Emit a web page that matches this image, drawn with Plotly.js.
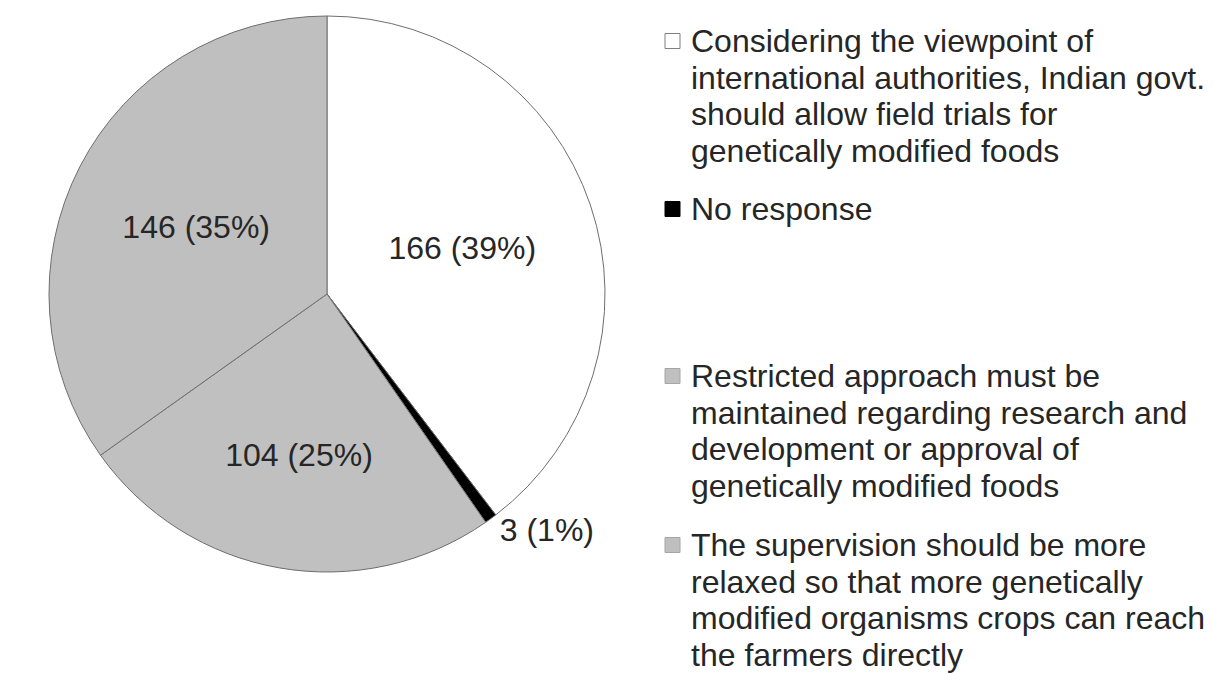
<!DOCTYPE html>
<html>
<head>
<meta charset="utf-8">
<script src="https://cdn.plot.ly/plotly-3.0.1.min.js"></script>
<style>
  html, body { margin: 0; padding: 0; background: #ffffff; }
  #chart { width: 1213px; height: 673px; }
</style>
</head>
<body>
<div id="chart"></div>
<script>
// ---- Data ----
const categories = [
  "Considering the viewpoint of<br>international authorities, Indian govt.<br>should allow field trials for<br>genetically modified foods",
  "No response",
  "Restricted approach must be<br>maintained regarding research and<br>development or approval of<br>genetically modified foods",
  "The supervision should be more<br>relaxed so that more genetically<br>modified organisms crops can reach<br>the farmers directly"
];
const values = [166, 3, 104, 146];
const percentLabels = ["39%", "1%", "25%", "35%"];
const sliceColors = ["#ffffff", "#000000", "#c0c0c0", "#bfbfbf"];
const legendBorderColors = ["#7f7f7f", "#000000", "#a6a6a6", "#a6a6a6"];

// ---- Layout / style ----
const W = 1213, H = 673;
const FONT = "Liberation Sans, Arial, sans-serif";
const TEXT_COLOR = "#262626";
const legendFontSize = 32;
const labelFontSize = 32;
const legendTextX = 689;
const legendMarkerX = 665;
const legendMarkerSize = 15;
const firstBaselines = [52, 220, 387, 556];
const lineStep = 36.5;

const px2x = p => p / W;
const px2y = p => 1 - p / H;

const trace = {
  type: "pie",
  labels: categories.map(c => c.replace(/<br>/g, " ")),
  values: values,
  customdata: percentLabels,
  sort: false,
  direction: "clockwise",
  rotation: 0,
  marker: { colors: sliceColors, line: { color: "#6e6e6e", width: 1 } },
  texttemplate: "%{value} (%{customdata})",
  textposition: ["inside", "outside", "inside", "inside"],
  insidetextorientation: "horizontal",
  textfont: { family: FONT, size: labelFontSize, color: TEXT_COLOR },
  outsidetextfont: { family: FONT, size: labelFontSize, color: TEXT_COLOR },
  insidetextfont: { family: FONT, size: labelFontSize, color: TEXT_COLOR },
  hoverinfo: "label+value",
  domain: { x: [px2x(49), px2x(605)], y: [px2y(572), px2y(16)] },
  showlegend: false
};

const annotations = [];
const shapes = [];
categories.forEach((cat, i) => {
  const lines = cat.split("<br>");
  const base = firstBaselines[i];
  lines.forEach((ln, j) => {
    const b = base + j * lineStep;
    annotations.push({
      xref: "paper", yref: "paper",
      x: px2x(legendTextX), y: px2y(b - 0.33 * legendFontSize),
      xanchor: "left", yanchor: "middle",
      text: ln, showarrow: false,
      font: { family: FONT, size: legendFontSize, color: TEXT_COLOR }
    });
  });
  const cy = base - 11;
  shapes.push({
    type: "rect", xref: "paper", yref: "paper",
    x0: px2x(legendMarkerX), x1: px2x(legendMarkerX + legendMarkerSize),
    y0: px2y(cy + legendMarkerSize / 2), y1: px2y(cy - legendMarkerSize / 2),
    fillcolor: sliceColors[i],
    line: { color: legendBorderColors[i], width: 1 }
  });
});

const layout = {
  width: W, height: H,
  margin: { l: 0, r: 0, t: 0, b: 0 },
  paper_bgcolor: "#ffffff",
  plot_bgcolor: "#ffffff",
  showlegend: false,
  annotations: annotations,
  shapes: shapes,
  font: { family: FONT, color: TEXT_COLOR }
};

Plotly.newPlot("chart", [trace], layout, { displayModeBar: false, staticPlot: true });
</script>
</body>
</html>
